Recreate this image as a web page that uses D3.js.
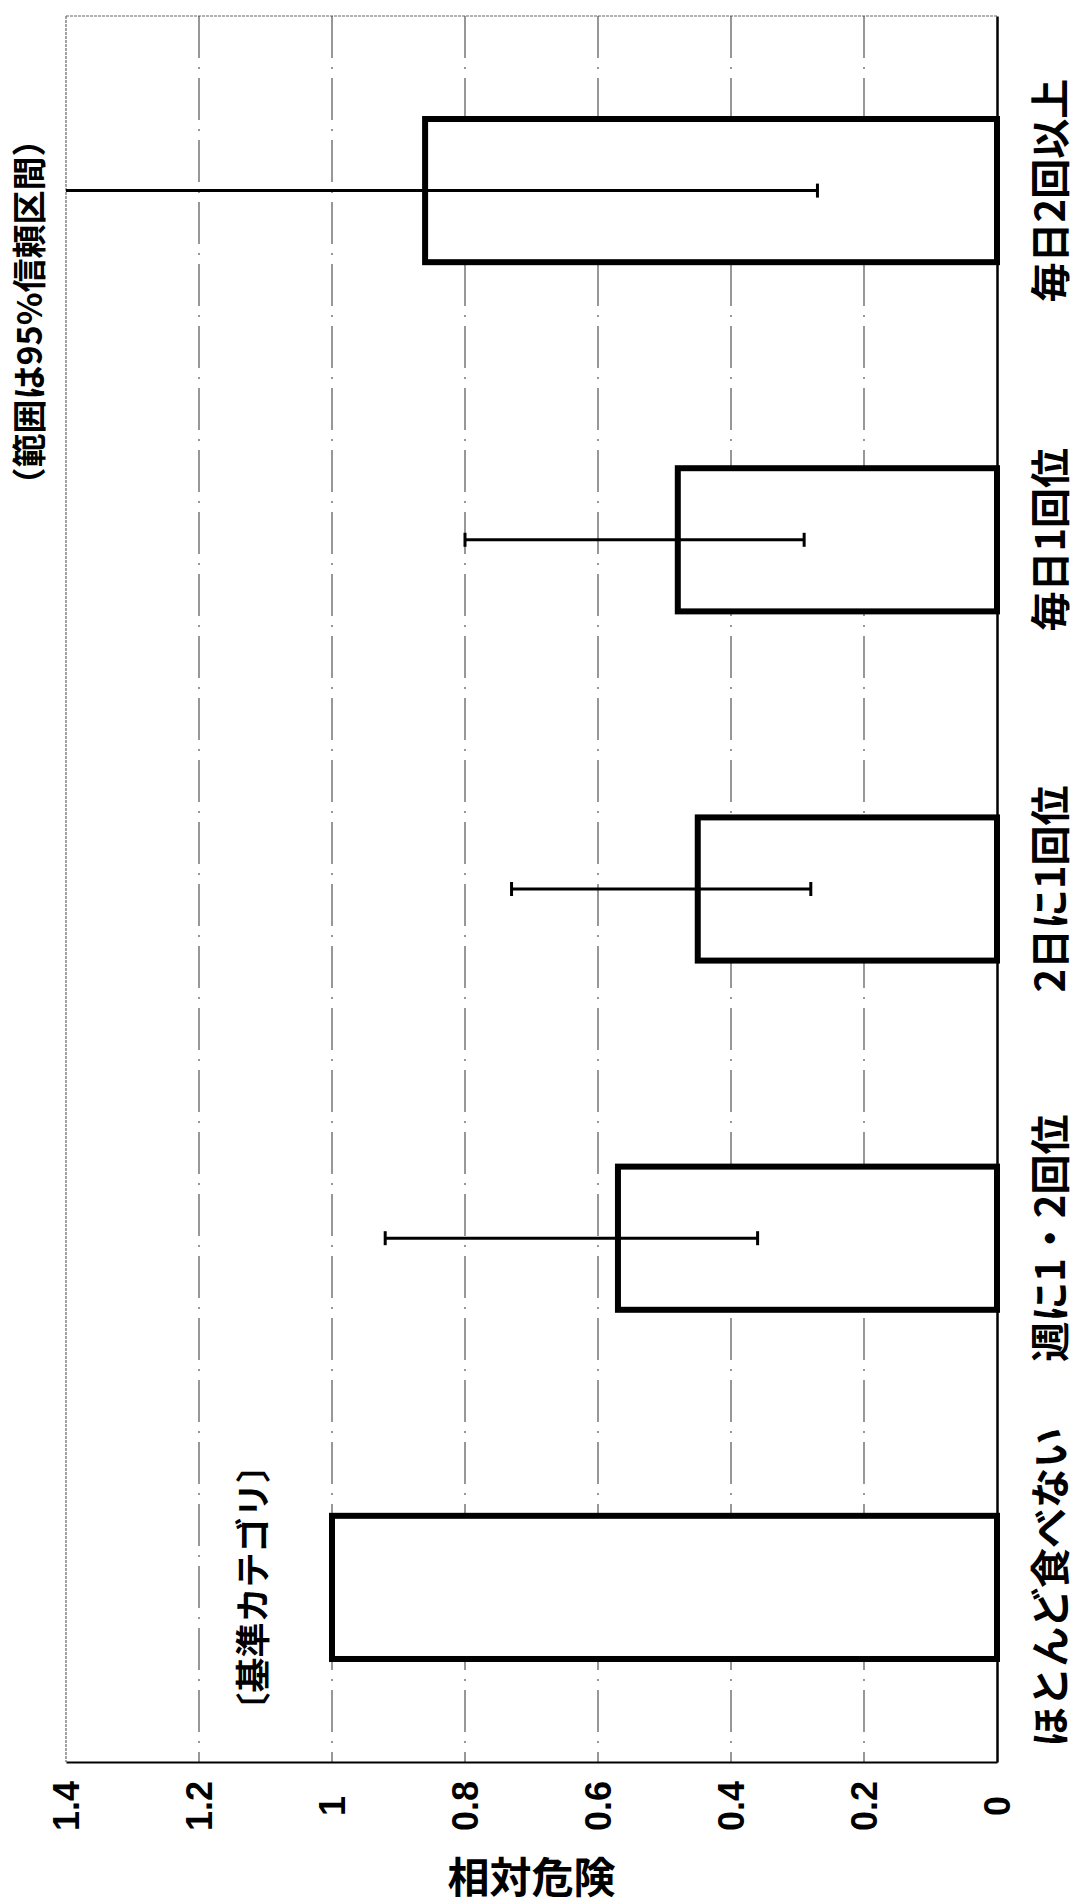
<!DOCTYPE html>
<html lang="ja">
<head>
    <meta charset="UTF-8">
    <script src="https://d3js.org/d3.v7.min.js"></script>
    <title>相対危険</title>
    <style>
        body { margin: 0; background: #fff; }
        text {
            font-family: 'Noto Sans CJK JP', 'Liberation Sans', sans-serif;
            font-weight: bold;
            fill: #000;
        }
        .num { font-family: 'Liberation Sans', Arial, sans-serif; }
    </style>
</head>
<body>
<script>
    const width = 1081, height = 1904;

    // categories from bottom to top of the (rotated) chart
    const categories = ["ほとんど食べない", "週に1・2回位", "2日に1回位", "毎日1回位", "毎日2回以上"];
    const relRisk = [1.0, 0.57, 0.45, 0.48, 0.86];
    // 95% CI; the reference category has none, the last upper limit runs off the axis
    const ciLow  = [null, 0.36, 0.28, 0.29, 0.27];
    const ciHigh = [null, 0.92, 0.73, 0.80, 1.4];
    const tickValues = [0, 0.2, 0.4, 0.6, 0.8, 1, 1.2, 1.4];
    const tickLabels = ["0", "0.2", "0.4", "0.6", "0.8", "1", "1.2", "1.4"];

    const rows = categories.map((c, i) => ({cat: c, v: relRisk[i], lo: ciLow[i], hi: ciHigh[i]}));

    const svg = d3.select("body").append("svg")
            .attr("width", width).attr("height", height);
    svg.append("rect").attr("width", width).attr("height", height).attr("fill", "#fff");

    const plotTop = 16, plotBottom = 1762;

    // value axis runs right (0) to left (1.4)
    const x = d3.scaleLinear().domain([0, 1.4]).range([997, 66]);
    const y = d3.scaleBand().domain(categories).range([plotBottom, plotTop])
            .paddingInner(0.59).paddingOuter(0.295);

    // frame (top and left are faint)
    svg.append("line")
            .attr("x1", x(1.4)).attr("x2", x(0)).attr("y1", plotTop).attr("y2", plotTop)
            .attr("stroke", "#666").attr("stroke-width", 1.2).attr("stroke-dasharray", "3,1");
    svg.append("line")
            .attr("x1", x(1.4)).attr("x2", x(1.4)).attr("y1", plotTop).attr("y2", plotBottom)
            .attr("stroke", "#666").attr("stroke-width", 1.2).attr("stroke-dasharray", "3,1");

    // gridlines
    svg.append("g").selectAll("line")
            .data(tickValues.filter(t => t > 0 && t < 1.4))
            .join("line")
            .attr("x1", d => x(d)).attr("x2", d => x(d))
            .attr("y1", plotTop).attr("y2", plotBottom)
            .attr("stroke", "#444").attr("stroke-width", 1.1)
            .attr("stroke-dasharray", "42,9,2,9");

    // bars
    svg.append("g").selectAll("rect")
            .data(rows)
            .join("rect")
            .attr("x", d => x(d.v))
            .attr("y", d => y(d.cat))
            .attr("width", d => x(0) - x(d.v))
            .attr("height", y.bandwidth())
            .attr("fill", "#fff")
            .attr("stroke", "#000")
            .attr("stroke-width", 6);

    // error bars
    const eb = svg.append("g").selectAll("g")
            .data(rows.filter(d => d.lo != null))
            .join("g")
            .attr("transform", d => `translate(0,${y(d.cat) + y.bandwidth() / 2})`);
    eb.append("line")
            .attr("x1", d => x(Math.min(d.hi, 1.4))).attr("x2", d => x(d.lo))
            .attr("stroke", "#000").attr("stroke-width", 3);
    eb.append("line")
            .attr("x1", d => x(d.lo)).attr("x2", d => x(d.lo))
            .attr("y1", -7).attr("y2", 7)
            .attr("stroke", "#000").attr("stroke-width", 3);
    eb.filter(d => d.hi < 1.4).append("line")
            .attr("x1", d => x(d.hi)).attr("x2", d => x(d.hi))
            .attr("y1", -7).attr("y2", 7)
            .attr("stroke", "#000").attr("stroke-width", 3);

    // value axis along the bottom
    const xAxis = svg.append("g")
            .attr("transform", `translate(0,${plotBottom})`)
            .call(d3.axisBottom(x).tickValues(tickValues)
                    .tickFormat((d, i) => tickLabels[i]).tickSize(0).tickPadding(0));
    xAxis.select(".domain").attr("stroke", "#000").attr("stroke-width", 2.2);
    xAxis.selectAll("text")
            .attr("class", "num")
            .attr("x", 0).attr("y", 0).attr("dy", "0.35em")
            .attr("transform", "translate(0,44) rotate(-90)")
            .attr("text-anchor", "middle")
            .attr("fill", "#000")
            .style("font-size", "36px")
            .style("font-weight", "bold");

    // category axis along the right
    const yAxis = svg.append("g")
            .attr("transform", `translate(${x(0)},0)`)
            .call(d3.axisRight(y).tickSize(0).tickPadding(0));
    yAxis.select(".domain").attr("stroke", "#000").attr("stroke-width", 2.5);
    yAxis.selectAll("text")
            .attr("x", 0).attr("y", 0).attr("dy", 0)
            .attr("transform", "translate(68,0) rotate(-90)")
            .attr("text-anchor", "middle")
            .attr("fill", "#000")
            .style("font-size", "40px")
            .style("font-weight", "bold");

    // titles and notes
    svg.append("text")
            .attr("x", (x(0) + x(1.4)) / 2).attr("y", 1893)
            .attr("text-anchor", "middle")
            .style("font-size", "42px")
            .text("相対危険");

    svg.append("text")
            .attr("transform", "translate(42,312) rotate(-90)")
            .attr("text-anchor", "middle")
            .style("font-size", "34px")
            .text("（範囲は95%信頼区間）");

    svg.append("text")
            .attr("transform", `translate(266,${y(categories[0]) + y.bandwidth() / 2}) rotate(-90)`)
            .attr("text-anchor", "middle")
            .style("font-size", "35px")
            .text("〔基準カテゴリ〕");
</script>
</body>
</html>
